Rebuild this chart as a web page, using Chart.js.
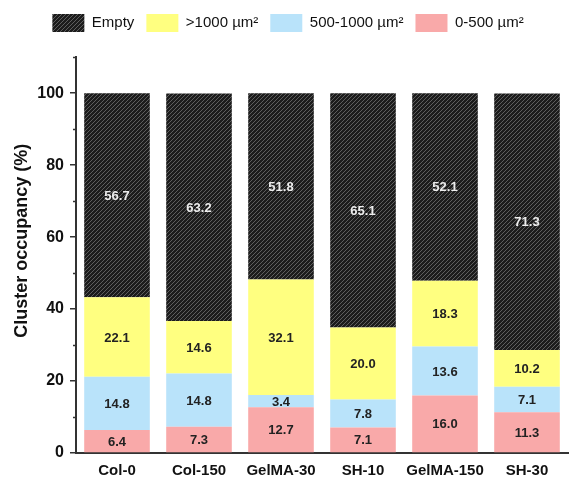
<!DOCTYPE html>
<html>
<head>
<meta charset="utf-8">
<script src="https://cdn.jsdelivr.net/npm/chart.js@4.4.1/dist/chart.umd.min.js"></script>
<style>
  html, body { margin: 0; padding: 0; background: #fff; }
  #wrap { width: 587px; height: 481px; }
</style>
</head>
<body>
<div id="wrap"><canvas id="chart" width="587" height="481"></canvas></div>
<script>
  // Data
  const categories = ['Col-0', 'Col-150', 'GelMA-30', 'SH-10', 'GelMA-150', 'SH-30'];
  const small = [6.4, 7.3, 12.7, 7.1, 16.0, 11.3];      // 0-500 µm²
  const medium = [14.8, 14.8, 3.4, 7.8, 13.6, 7.1];     // 500-1000 µm²
  const large = [22.1, 14.6, 32.1, 20.0, 18.3, 10.2];   // >1000 µm²
  const empty = [56.7, 63.2, 51.8, 65.1, 52.1, 71.3];   // Empty
  const yTicks = [0, 20, 40, 60, 80, 100];

  const FONT = '"Liberation Sans", Arial, sans-serif';

  // Hatched fill for the "Empty" series
  function makeHatch() {
    const s = 4;
    const c = document.createElement('canvas');
    c.width = s; c.height = s;
    const g = c.getContext('2d');
    g.fillStyle = '#1c1c1c';
    g.fillRect(0, 0, s, s);
    g.strokeStyle = '#5e5e5e';
    g.lineWidth = 1;
    g.beginPath();
    g.moveTo(0, s); g.lineTo(s, 0);
    g.moveTo(-1, 1); g.lineTo(1, -1);
    g.moveTo(s - 1, s + 1); g.lineTo(s + 1, s - 1);
    g.stroke();
    return g.createPattern(c, 'repeat');
  }
  const hatch = makeHatch();

  // Value labels centred in each segment
  const segmentLabels = {
    id: 'segmentLabels',
    afterDatasetsDraw(chart) {
      const ctx = chart.ctx;
      ctx.save();
      ctx.font = 'bold 13px ' + FONT;
      ctx.textAlign = 'center';
      ctx.textBaseline = 'middle';
      chart.data.datasets.forEach((ds, i) => {
        const meta = chart.getDatasetMeta(i);
        meta.data.forEach((bar, j) => {
          const y = (bar.y + bar.base) / 2;
          ctx.fillStyle = ds.labelColor;
          ctx.fillText(ds.data[j].toFixed(1), bar.x, y + 1);
        });
      });
      ctx.restore();
    }
  };

  // Short minor ticks and the y title (drawn a bit above the axis centre, as in the figure)
  const yExtras = {
    id: 'yExtras',
    afterDraw(chart) {
      const y = chart.scales.y;
      const ctx = chart.ctx;
      ctx.save();
      ctx.strokeStyle = '#333';
      ctx.lineWidth = 1.5;
      for (let v = 10; v <= 110; v += 20) {
        const py = Math.round(y.getPixelForValue(v)) + 0.5;
        ctx.beginPath();
        ctx.moveTo(y.right - 3, py);
        ctx.lineTo(y.right, py);
        ctx.stroke();
      }
      ctx.translate(22, y.getPixelForValue(59));
      ctx.rotate(-Math.PI / 2);
      ctx.font = 'bold 18px ' + FONT;
      ctx.fillStyle = '#111';
      ctx.textAlign = 'center';
      ctx.textBaseline = 'middle';
      ctx.fillText('Cluster occupancy (%)', 0, 0);
      ctx.restore();
    }
  };

  new Chart(document.getElementById('chart'), {
    type: 'bar',
    data: {
      labels: categories,
      datasets: [
        { label: '0-500 µm²', data: small, backgroundColor: '#f9a9a9', labelColor: '#222' },
        { label: '500-1000 µm²', data: medium, backgroundColor: '#b9e3fa', labelColor: '#222' },
        { label: '>1000 µm²', data: large, backgroundColor: '#ffff80', labelColor: '#222' },
        { label: 'Empty', data: empty, backgroundColor: hatch, labelColor: '#eeeeee' }
      ]
    },
    options: {
      responsive: false,
      animation: false,
      layout: { padding: { top: 2, right: 19, left: 8, bottom: 0 } },
      datasets: { bar: { categoryPercentage: 1, barPercentage: 0.8, borderWidth: 0 } },
      plugins: {
        tooltip: { enabled: false },
        legend: {
          position: 'top',
          align: 'center',
          reverse: true,
          labels: {
            boxWidth: 32,
            boxHeight: 18,
            padding: 12,
            color: '#111',
            font: { family: FONT, size: 15 }
          }
        },
        // empty spacer between legend and plot
        subtitle: {
          display: true,
          text: ' ',
          position: 'top',
          weight: 500,
          font: { size: 1 },
          padding: { top: 0, bottom: 14 }
        }
      },
      scales: {
        x: {
          stacked: true,
          afterFit(scale) { scale.height = 28; },
          grid: { display: false, drawTicks: false },
          border: { display: true, color: '#333', width: 2 },
          ticks: {
            color: '#111',
            padding: 9,
            autoSkip: false,
            minRotation: 0,
            maxRotation: 0,
            font: { family: FONT, size: 15, weight: 'bold' }
          }
        },
        y: {
          stacked: true,
          min: 0,
          max: 110,
          afterBuildTicks(scale) {
            scale.ticks = yTicks.map(v => ({ value: v }));
          },
          afterFit(scale) { scale.width = 68; },
          grid: { drawOnChartArea: false, tickLength: 6, color: '#333', lineWidth: 1.5 },
          border: { display: true, color: '#333', width: 2 },
          ticks: { color: '#111', padding: 6, font: { family: FONT, size: 16, weight: 'bold' } },
          title: { display: false }
        }
      }
    },
    plugins: [segmentLabels, yExtras]
  });
</script>
</body>
</html>
